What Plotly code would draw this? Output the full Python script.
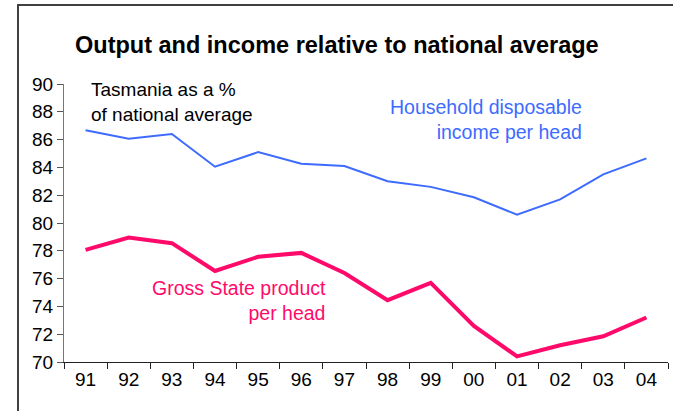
import plotly.graph_objects as go

years = ["91", "92", "93", "94", "95", "96", "97", "98", "99", "00", "01", "02", "03", "04"]
household_income = [86.67, 86.07, 86.4, 84.05, 85.1, 84.27, 84.1, 83.0, 82.6, 81.85, 80.6, 81.7, 83.5, 84.65]
gsp_per_head = [78.07, 78.96, 78.55, 76.55, 77.57, 77.85, 76.4, 74.45, 75.7, 72.6, 70.4, 71.2, 71.85, 73.2]
y_ticks = [70, 72, 74, 76, 78, 80, 82, 84, 86, 88, 90]

BLUE = "#3D6BFF"
MAGENTA = "#FF0A6A"
FONT = "Liberation Sans, Arial, sans-serif"

fig = go.Figure()
fig.add_trace(go.Scatter(x=years, y=household_income, mode="lines",
                         line=dict(color=BLUE, width=2), hoverinfo="skip"))
fig.add_trace(go.Scatter(x=years, y=gsp_per_head, mode="lines",
                         line=dict(color=MAGENTA, width=4), hoverinfo="skip"))

fig.update_layout(
    width=673, height=411,
    margin=dict(l=64, r=5, t=84, b=49),
    paper_bgcolor="white", plot_bgcolor="white",
    showlegend=False,
    font=dict(family=FONT, color="black"),
    title=dict(text="<b>Output and income relative to national average</b>",
               font=dict(size=23.5, family=FONT, color="black"),
               x=75/673, xanchor="left", xref="container",
               y=1-45/411, yanchor="middle", yref="container"),
    xaxis=dict(type="category", range=[-0.5, 13.5], showgrid=False, zeroline=False,
               showline=True, linecolor="#222222", linewidth=1,
               ticks="outside", ticklen=6, tickcolor="#222222", tickson="boundaries",
               tickfont=dict(size=19, family=FONT, color="black"), fixedrange=True),
    yaxis=dict(range=[70, 90], tickvals=y_ticks, showgrid=False, zeroline=False,
               showline=True, linecolor="#777777", linewidth=1,
               ticks="outside", ticklen=6, tickcolor="#555555",
               tickfont=dict(size=19, family=FONT, color="black"), fixedrange=True),
    shapes=[dict(type="rect", xref="paper", yref="paper",
                 x0=(18-64)/604, x1=1.1, y0=-0.5, y1=(362-5)/278,
                 line=dict(color="#404040", width=2), fillcolor="rgba(0,0,0,0)")],
    annotations=[
        dict(text="Tasmania as a %<br>of national average", xref="paper", yref="y",
             x=(89-64)/604, y=88.7, xanchor="left", yanchor="middle", align="left",
             showarrow=False, font=dict(size=19, family=FONT, color="black")),
        dict(text="Household disposable<br>income per head", xref="paper", yref="y",
             x=(584-64)/604, y=87.45, xanchor="right", yanchor="middle", align="right",
             showarrow=False, font=dict(size=19.5, family=FONT, color=BLUE)),
        dict(text="Gross State product<br>per head", xref="paper", yref="y",
             x=(328-64)/604, y=74.4, xanchor="right", yanchor="middle", align="right",
             showarrow=False, font=dict(size=19.5, family=FONT, color=MAGENTA)),
    ],
)

fig.write_html("out.html", config={"displayModeBar": False},
               post_script="document.body.style.margin='0';")
